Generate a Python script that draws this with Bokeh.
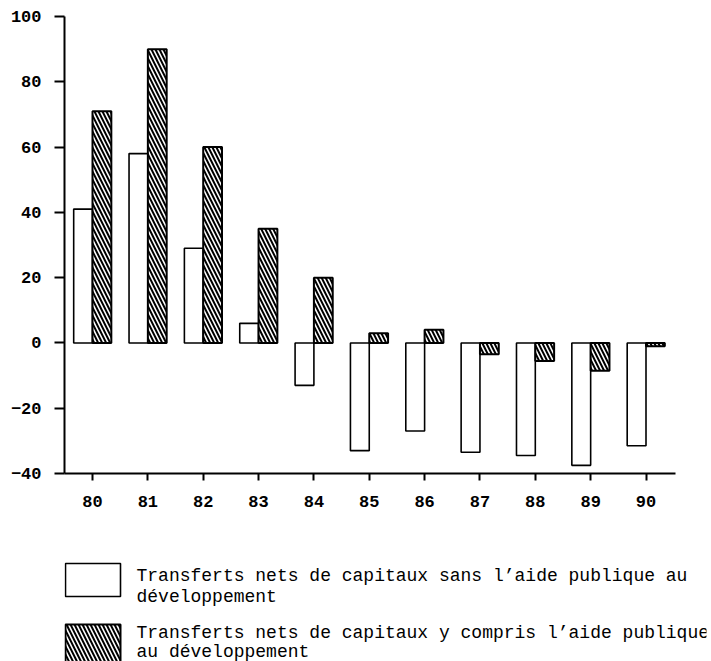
from bokeh.plotting import figure
from bokeh.models import Range1d, FixedTicker
from bokeh.layouts import column
from bokeh.core.properties import value
from bokeh.embed import file_html
from bokeh.resources import INLINE

# ---- data ----
years = [80, 81, 82, 83, 84, 85, 86, 87, 88, 89, 90]
year_labels = ["80", "81", "82", "83", "84", "85", "86", "87", "88", "89", "90"]
sans_aide = [41, 58, 29, 6, -13, -33, -27, -33.5, -34.5, -37.5, -31.5]
avec_aide = [71, 90, 60, 35, 20, 3, 4, -3.5, -5.5, -8.5, -1]
y_ticks = [-40, -20, 0, 20, 40, 60, 80, 100]
legend_sans = ["Transferts nets de capitaux sans l\u2019aide publique au", "d\u00e9veloppement"]
legend_avec = ["Transferts nets de capitaux y compris l\u2019aide publique", "au d\u00e9veloppement"]

FONT = "Liberation Mono"
bar_w = 0.34
x_start, x_axis_end, x_frame_end = 79.494, 90.53, 91.093

p = figure(width=711, height=513, output_backend="svg", toolbar_location=None,
           x_range=Range1d(x_start, x_frame_end), y_range=Range1d(-40, 100),
           min_border_left=64, min_border_right=5, min_border_top=16, min_border_bottom=40)
p.outline_line_color = None
p.grid.visible = False

p.vbar(x=[y - bar_w / 2 for y in years], top=sans_aide, bottom=0, width=bar_w,
       fill_color="white", line_color="black", line_width=1.6)
p.vbar(x=[y + bar_w / 2 for y in years], top=avec_aide, bottom=0, width=bar_w,
       fill_color="white", line_color="black", line_width=2,
       hatch_pattern="\\", hatch_color="black", hatch_scale=8, hatch_weight=2)

p.xaxis.ticker = FixedTicker(ticks=years)
p.xaxis.major_label_overrides = {y: l for y, l in zip(years, year_labels)}
p.xaxis.bounds = (x_start, x_axis_end)
p.yaxis.ticker = FixedTicker(ticks=y_ticks)
for ax in (p.xaxis[0], p.yaxis[0]):
    ax.axis_line_width = 2
    ax.axis_line_color = "black"
    ax.major_tick_line_width = 2
    ax.major_tick_line_color = "black"
    ax.major_tick_in = 0
    ax.minor_tick_line_color = None
    ax.major_label_text_font = FONT
    ax.major_label_text_font_size = "17px"
    ax.major_label_text_font_style = "bold"
    ax.major_label_text_color = "black"
p.yaxis.major_tick_out = 10
p.yaxis.major_label_standoff = 13
p.xaxis.major_tick_out = 7
p.xaxis.major_label_standoff = 15

# ---- legend panel (coordinates are page pixels) ----
lf = figure(width=711, height=148, output_backend="svg", toolbar_location=None,
            x_range=Range1d(64, 706), y_range=Range1d(661, 513),
            min_border_left=64, min_border_right=5, min_border_top=0, min_border_bottom=0)
lf.axis.visible = False
lf.grid.visible = False
lf.outline_line_color = None

lf.quad(left=[65], right=[120], top=[563], bottom=[596],
        fill_color="white", line_color="black", line_width=1.6)
lf.quad(left=[65], right=[120], top=[624], bottom=[680],
        fill_color="white", line_color="black", line_width=2,
        hatch_pattern="\\", hatch_color="black", hatch_scale=8, hatch_weight=2)

lf.text(x=[136, 136], y=[575, 596], text=legend_sans, text_font=value(FONT),
        text_font_size="18px", text_baseline="middle", text_align="left", text_color="black")
lf.text(x=[136, 136], y=[632, 651], text=legend_avec, text_font=value(FONT),
        text_font_size="18px", text_baseline="middle", text_align="left", text_color="black")

layout = column(p, lf)
open("out.html", "w").write(file_html(layout, INLINE))
